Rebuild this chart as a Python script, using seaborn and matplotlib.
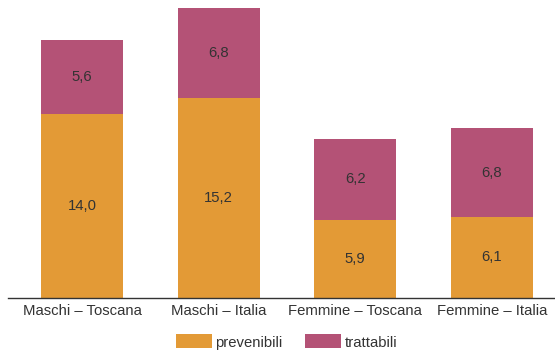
import matplotlib
matplotlib.use("Agg")
import matplotlib.pyplot as plt
import seaborn as sns
import pandas as pd
from matplotlib.patches import Patch

categories = ["Maschi – Toscana", "Maschi – Italia", "Femmine – Toscana", "Femmine – Italia"]
prevenibili = [14.0, 15.2, 5.9, 6.1]
trattabili = [5.6, 6.8, 6.2, 6.8]
series_names = ["prevenibili", "trattabili"]

ORANGE = "#E39A36"
MAGENTA = "#B45276"
TEXT = "#333333"

sns.set_theme(style="white")
plt.rcParams["font.family"] = ["Liberation Sans", "DejaVu Sans"]
FS = 10.7

df = pd.DataFrame({
    "categoria": categories,
    "prevenibili": prevenibili,
    "trattabili": trattabili,
})
df["totale"] = df["prevenibili"] + df["trattabili"]

fig = plt.figure(figsize=(5.55, 3.51), dpi=100)
W, H = 555, 351
ax = fig.add_axes([8 / W, (H - 297.5) / H, 547 / W, 297.5 / H])

# stacked bars: full total in magenta, lower part overdrawn in orange
sns.barplot(data=df, x="categoria", y="totale", color=MAGENTA, width=0.6,
            saturation=1, ax=ax, order=categories)
sns.barplot(data=df, x="categoria", y="prevenibili", color=ORANGE, width=0.6,
            saturation=1, ax=ax, order=categories)
for p in ax.patches:
    p.set_edgecolor("none")
    p.set_linewidth(0)

for i, (pv, tr) in enumerate(zip(prevenibili, trattabili)):
    ax.text(i, pv / 2, f"{pv:.1f}".replace(".", ","), ha="center", va="center",
            fontsize=FS, color=TEXT)
    ax.text(i, pv + tr / 2, f"{tr:.1f}".replace(".", ","), ha="center", va="center",
            fontsize=FS, color=TEXT)

ax.set_xlim(-0.541, 3.461)
ax.set_ylim(0, 22.64)
ax.set_xlabel("")
ax.set_ylabel("")
ax.set_yticks([])
ax.tick_params(axis="x", length=0, pad=5, labelsize=FS, labelcolor=TEXT)
for s in ["top", "right", "left"]:
    ax.spines[s].set_visible(False)
ax.spines["bottom"].set_color("#333333")
ax.spines["bottom"].set_linewidth(1.0)

handles = [Patch(facecolor=ORANGE, edgecolor="none"),
           Patch(facecolor=MAGENTA, edgecolor="none")]
fig.legend(handles, series_names, loc="center", ncol=2,
           bbox_to_anchor=(286.5 / W, 1 - 342 / H), frameon=False,
           fontsize=FS, handlelength=2.4, handleheight=1.07,
           handletextpad=0.25, columnspacing=1.5, labelcolor=TEXT,
           borderpad=0, borderaxespad=0)

fig.savefig("out.png", dpi=100)
